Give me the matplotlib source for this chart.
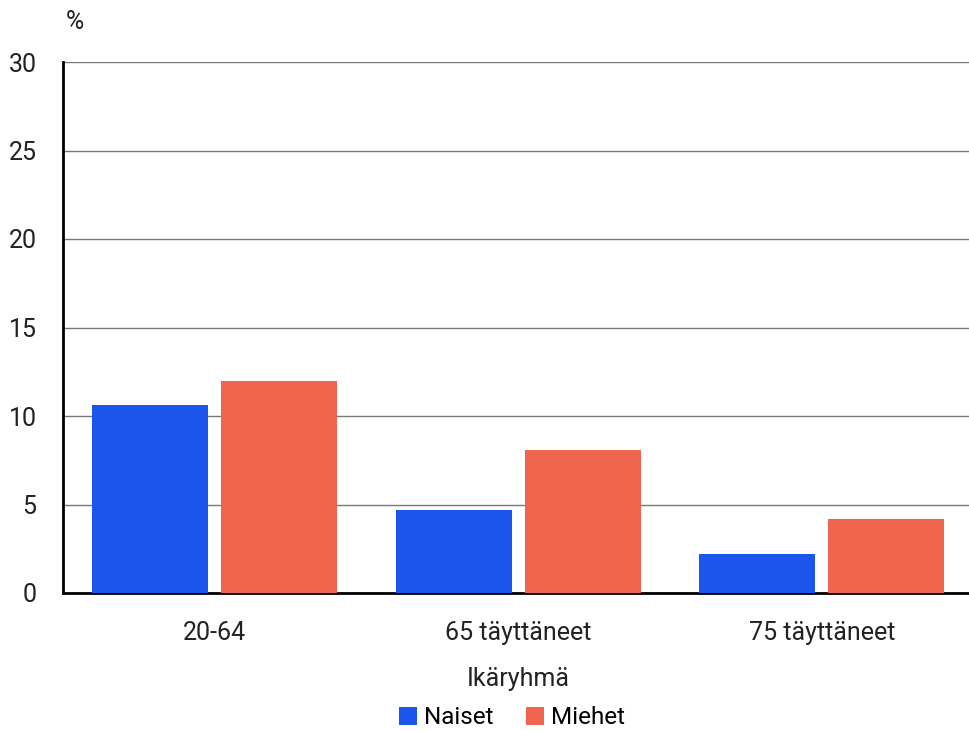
import matplotlib
matplotlib.use("Agg")
import matplotlib.pyplot as plt
import numpy as np

categories = ["20-64", "65 täyttäneet", "75 täyttäneet"]
naiset = [10.6, 4.7, 2.2]
miehet = [12.0, 8.1, 4.2]
yticks = [0, 5, 10, 15, 20, 25, 30]

plt.rcParams['font.family'] = ['Roboto', 'DejaVu Sans']

fig = plt.figure(figsize=(9.69, 7.31), dpi=100)
ax = fig.add_axes([63/969, 1-593/731, 910.5/969, (593-62)/731])

x = np.arange(len(categories))
w = 0.383
off = 0.2125
ax.bar(x - off, naiset, w, color="#1B55EB", label="Naiset", zorder=3)
ax.bar(x + off, miehet, w, color="#F0654D", label="Miehet", zorder=3)

fs = 18
ax.set_xlim(-0.5, 2.5)
ax.set_ylim(0, 30)
ax.set_yticks(yticks)
ax.set_yticklabels([str(t) for t in yticks], fontsize=fs, color="#222222")
ax.set_xticks(x)
ax.set_xticklabels(categories, fontsize=fs, color="#222222")
ax.tick_params(axis='both', length=0)
ax.tick_params(axis='y', pad=19)
ax.tick_params(axis='x', pad=20)
ax.yaxis.grid(True, color="#777777", linewidth=1.0, zorder=0)
ax.set_axisbelow(True)
for s in ["top", "right"]:
    ax.spines[s].set_visible(False)
ax.spines["left"].set_color("black")
ax.spines["left"].set_linewidth(2)
ax.spines["bottom"].set_color("black")
ax.spines["bottom"].set_linewidth(2)

ax.set_xlabel("Ikäryhmä", fontsize=fs, color="#222222", labelpad=16)
fig.text(75/969, 1-22/731, "%", fontsize=fs, color="#222222", ha="center", va="center")

ax.legend(loc="center", bbox_to_anchor=(512/969, 1-718/731), bbox_transform=fig.transFigure,
          ncol=2, frameon=False, fontsize=17.5, handlelength=0.75, handleheight=0.75,
          handletextpad=0.3, columnspacing=1.3)

fig.savefig("out.png", dpi=100)
